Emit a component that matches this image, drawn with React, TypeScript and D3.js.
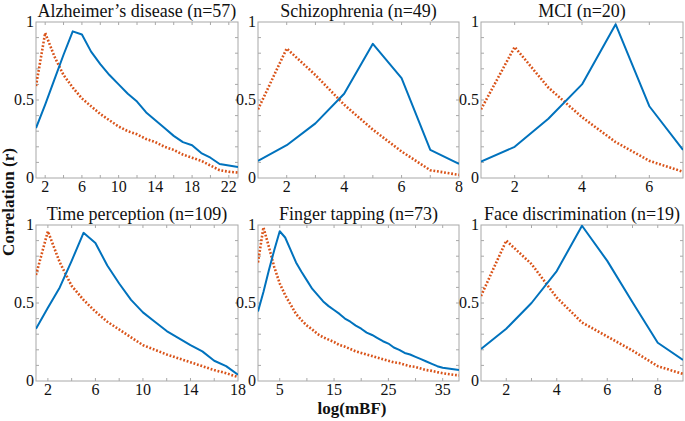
import React from "react";
import * as d3 from "d3";

const titles = [
  "Alzheimer\u2019s disease (n=57)",
  "Schizophrenia (n=49)",
  "MCI (n=20)",
  "Time perception (n=109)",
  "Finger tapping (n=73)",
  "Face discrimination (n=19)",
];

const xMax = [23, 8, 7, 18, 38, 9];
const xTickLabels = [
  [2, 6, 10, 14, 18, 22],
  [2, 4, 6, 8],
  [2, 4, 6],
  [2, 6, 10, 14, 18],
  [5, 15, 25, 35],
  [2, 4, 6, 8],
];
const xMinorStep = [2, 1, 1, 2, 5, 1];
const yTickLabels = [0, 0.5, 1];

const blueAD = [0.32, 0.47, 0.63, 0.79, 0.94, 0.92, 0.81, 0.73, 0.66, 0.60, 0.54, 0.49, 0.42, 0.37, 0.32, 0.27, 0.23, 0.21, 0.16, 0.13, 0.09, 0.08, 0.07];
const orangeAD = [0.59, 0.93, 0.78, 0.66, 0.58, 0.51, 0.46, 0.41, 0.37, 0.33, 0.30, 0.28, 0.25, 0.23, 0.20, 0.18, 0.15, 0.13, 0.11, 0.08, 0.05, 0.04, 0.035];

const blueSZ = [0.11, 0.21, 0.35, 0.54, 0.86, 0.64, 0.18, 0.09];
const orangeSZ = [0.44, 0.83, 0.66, 0.47, 0.31, 0.17, 0.05, 0.02];

const blueMCI = [0.105, 0.20, 0.38, 0.60, 0.985, 0.46, 0.18];
const orangeMCI = [0.44, 0.84, 0.58, 0.39, 0.23, 0.11, 0.04];

const blueTP = [0.335, 0.47, 0.60, 0.77, 0.95, 0.885, 0.74, 0.625, 0.52, 0.44, 0.38, 0.32, 0.275, 0.23, 0.19, 0.13, 0.095, 0.04];
const orangeTP = [0.68, 0.96, 0.76, 0.61, 0.52, 0.445, 0.38, 0.33, 0.28, 0.23, 0.20, 0.17, 0.145, 0.12, 0.095, 0.07, 0.05, 0.025];

const blueFT = [0.445, 0.57, 0.71, 0.84, 0.96, 0.92, 0.84, 0.76, 0.70, 0.645, 0.59, 0.55, 0.51, 0.48, 0.455, 0.43, 0.40, 0.38, 0.355, 0.335, 0.31, 0.295, 0.275, 0.255, 0.24, 0.215, 0.20, 0.18, 0.17, 0.155, 0.14, 0.125, 0.11, 0.095, 0.085, 0.08, 0.075, 0.07];
const orangeFT = [0.76, 0.985, 0.86, 0.73, 0.625, 0.55, 0.49, 0.43, 0.39, 0.355, 0.33, 0.30, 0.28, 0.265, 0.25, 0.23, 0.22, 0.205, 0.19, 0.18, 0.17, 0.16, 0.15, 0.14, 0.13, 0.12, 0.115, 0.105, 0.095, 0.09, 0.08, 0.07, 0.065, 0.057, 0.05, 0.045, 0.04, 0.036];

const blueFD = [0.205, 0.335, 0.50, 0.705, 0.995, 0.77, 0.505, 0.245, 0.135];
const orangeFD = [0.545, 0.90, 0.75, 0.535, 0.375, 0.285, 0.195, 0.095, 0.045];

const blueSeries = [blueAD, blueSZ, blueMCI, blueTP, blueFT, blueFD];
const orangeSeries = [orangeAD, orangeSZ, orangeMCI, orangeTP, orangeFT, orangeFD];

const W = 685;
const H = 421;
const cols: [number, number][] = [[36, 238], [258, 459], [481, 683]];
const rows: [number, number][] = [[22, 178], [225, 381]];
const BLUE = "#0072BD";
const ORANGE = "#D95319";
const AXIS = "#a8a8a8";
const FONT =
  "'Times New Roman', Tinos, 'Liberation Serif', 'Nimbus Roman', 'Nimbus Roman No9 L', FreeSerif, 'Noto Serif', 'DejaVu Serif', Times, serif";

function Panel({ i }: { i: number }) {
  const [x0, x1] = cols[i % 3];
  const [y0, y1] = rows[Math.floor(i / 3)];
  const x = d3.scaleLinear().domain([1, xMax[i]]).range([x0, x1]);
  const y = d3.scaleLinear().domain([0, 1]).range([y1, y0]);
  const line = d3
    .line<number>()
    .x((_, k) => x(k + 1))
    .y((d) => y(d));
  const minorX = d3.range(0, xMax[i] + 0.001, xMinorStep[i]).filter((v) => v > 1 && v < xMax[i]);
  const minorY = d3.range(1, 10).map((v) => v / 10);
  const tl = 3;
  return (
    <g>
      <defs>
        <clipPath id={`clip${i}`}>
          <rect x={x0} y={y0 - 2} width={x1 - x0} height={y1 - y0 + 2} />
        </clipPath>
      </defs>
      <text x={(x0 + x1) / 2} y={y0 - 5} textAnchor="middle" fontSize={18} fontFamily={FONT} fill="#111">
        {titles[i]}
      </text>
      <rect x={x0} y={y0} width={x1 - x0} height={y1 - y0} fill="none" stroke={AXIS} strokeWidth={1} />
      {minorX.map((v) => (
        <g key={`mx${v}`}>
          <line x1={x(v)} x2={x(v)} y1={y1} y2={y1 - tl} stroke={AXIS} />
          <line x1={x(v)} x2={x(v)} y1={y0} y2={y0 + tl} stroke={AXIS} />
        </g>
      ))}
      {minorY.map((v) => (
        <g key={`my${v}`}>
          <line x1={x0} x2={x0 + tl} y1={y(v)} y2={y(v)} stroke={AXIS} />
          <line x1={x1} x2={x1 - tl} y1={y(v)} y2={y(v)} stroke={AXIS} />
        </g>
      ))}
      {xTickLabels[i].map((v) => (
        <text key={`xl${v}`} x={x(v)} y={y1 + 14} textAnchor="middle" fontSize={16} fontFamily={FONT} fill="#111">
          {v}
        </text>
      ))}
      {yTickLabels.map((v) => (
        <text key={`yl${v}`} x={x0 - 2} y={y(v) + 5} textAnchor="end" fontSize={16} fontFamily={FONT} fill="#111">
          {v}
        </text>
      ))}
      <g clipPath={`url(#clip${i})`}>
        <path d={line(orangeSeries[i]) || ""} fill="none" stroke={ORANGE} strokeWidth={2.6} strokeDasharray="1.8 1.8" />
        <path d={line(blueSeries[i]) || ""} fill="none" stroke={BLUE} strokeWidth={2} strokeLinejoin="round" />
      </g>
    </g>
  );
}

export default function App() {
  return (
    <svg width={W} height={H} style={{ position: "absolute", left: 0, top: 0, background: "#fff" }}>
      {titles.map((_, i) => (
        <Panel key={i} i={i} />
      ))}
      <text
        transform="translate(14,202) rotate(-90)"
        textAnchor="middle"
        fontSize={17}
        fontWeight="bold"
        fontFamily={FONT}
        fill="#111"
      >
        Correlation (r)
      </text>
      <text x={352} y={414} textAnchor="middle" fontSize={17} fontWeight="bold" fontFamily={FONT} fill="#111">
        log(mBF)
      </text>
    </svg>
  );
}
